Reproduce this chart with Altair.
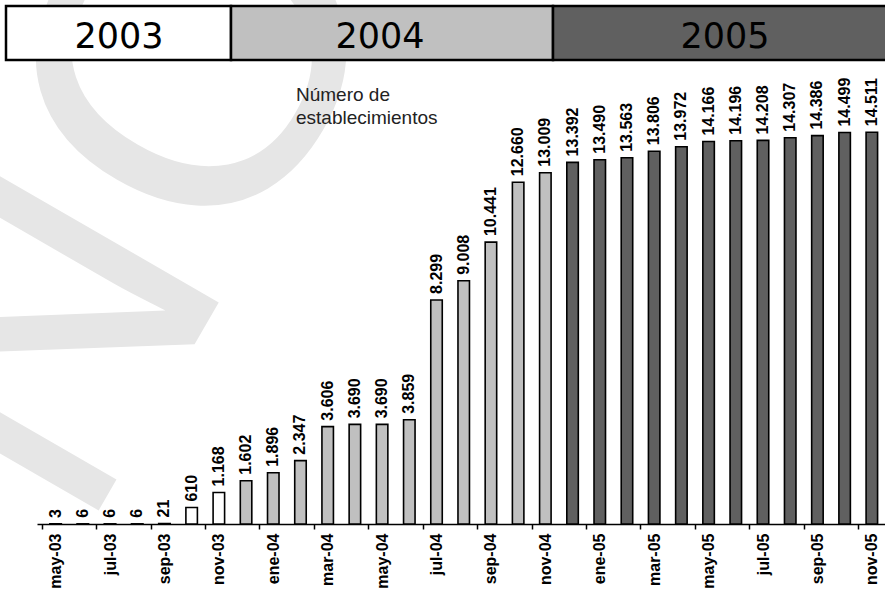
import altair as alt
import pandas as pd

# Monthly series: number of establishments, May 2003 - Nov 2005
meses = ["may-03", "jun-03", "jul-03", "ago-03", "sep-03", "oct-03", "nov-03", "dic-03",
         "ene-04", "feb-04", "mar-04", "abr-04", "may-04", "jun-04", "jul-04", "ago-04",
         "sep-04", "oct-04", "nov-04", "dic-04", "ene-05", "feb-05", "mar-05", "abr-05",
         "may-05", "jun-05", "jul-05", "ago-05", "sep-05", "oct-05", "nov-05"]
establecimientos = [3, 6, 6, 6, 21, 610, 1168, 1602, 1896, 2347, 3606, 3690, 3690, 3859,
                    8299, 9008, 10441, 12660, 13009, 13392, 13490, 13563, 13806, 13972,
                    14166, 14196, 14208, 14307, 14386, 14499, 14511]
tramo = ["2003"] * 7 + ["2004"] * 12 + ["2005"] * 12
anios = ["2003", "2004", "2005"]
colores = ["#ffffff", "#c0c0c0", "#606060"]

df = pd.DataFrame({
    "n": list(range(1, len(meses) + 1)),
    "mes": meses,
    "valor": establecimientos,
    "tramo": tramo,
})
df["etiqueta"] = [f"{v:,}".replace(",", ".") for v in df["valor"]]

FONT = "Liberation Sans"
PASO = 848 / 30.8  # pixels per month on the x scale

etiquetas_js = "[" + ",".join(f"'{m}'" for m in meses) + "]"

x = alt.X(
    "n:Q",
    title=None,
    scale=alt.Scale(domain=[0.5, 31.3], nice=False, zero=False),
    axis=alt.Axis(
        values=list(range(1, len(meses) + 1, 2)),
        labelExpr=f"{etiquetas_js}[datum.value - 1]",
        tickOffset=-PASO / 2,
        labelOffset=PASO / 2,
        grid=False,
        domainColor="black",
        domainWidth=1.5,
        tickColor="black",
        tickWidth=1.5,
        tickSize=5,
        labelAngle=270,
        labelAlign="right",
        labelBaseline="middle",
        labelFont=FONT,
        labelFontWeight="bold",
        labelFontSize=16,
        labelColor="black",
        labelPadding=4,
        labelFlush=False,
        labelOverlap=False,
    ),
)
y = alt.Y("valor:Q", scale=alt.Scale(domain=[0, 15000], nice=False), axis=None)

base = alt.Chart(df)

barras = base.mark_bar(size=11.5, stroke="black", strokeWidth=1.6).encode(
    x=x,
    y=y,
    color=alt.Color("tramo:N", scale=alt.Scale(domain=anios, range=colores), legend=None),
)

valores = base.mark_text(
    angle=270, align="left", baseline="middle", dx=6,
    font=FONT, fontWeight="bold", fontSize=16, color="black",
).encode(x=x, y=y, text="etiqueta:N")

# Background watermark
marca = alt.Chart(pd.DataFrame({"marca": ["NO"]})).mark_text(
    angle=300, align="left", baseline="alphabetic",
    font=FONT, fontSize=430, color="#e6e6e6",
).encode(x=alt.value(44), y=alt.value(422), text="marca:N")

# Year band across the top
bandas = []
limites = [(-31, 194), (194, 516), (516, 870)]
centros = [82, 343, 688]
for anio, color, (a, b), c in zip(anios, colores, limites, centros):
    d = pd.DataFrame({"anio": [anio]})
    bandas.append(
        alt.Chart(d).mark_rect(fill=color, stroke="black", strokeWidth=2.5).encode(
            x=alt.value(a), x2=alt.value(b), y=alt.value(-113), y2=alt.value(-59)
        )
    )
    bandas.append(
        alt.Chart(d).mark_text(
            font="DejaVu Sans", fontSize=35, align="center", baseline="alphabetic", color="black"
        ).encode(x=alt.value(c), y=alt.value(-71), text="anio:N")
    )

rotulo = alt.Chart(pd.DataFrame({"t": ["Número de\nestablecimientos"]})).mark_text(
    align="left", baseline="alphabetic", lineBreak="\n", lineHeight=23,
    font=FONT, fontSize=19, color="#222222",
).encode(x=alt.value(259), y=alt.value(-18), text="t:N")

chart = alt.layer(marca, *bandas, barras, valores, rotulo).properties(
    width=848,
    height=405,
    padding={"left": 37, "top": 119, "right": 0, "bottom": 68},
    autosize=alt.AutoSizeParams(type="none"),
    background="white",
).configure_view(stroke=None)

chart.save("out.html", embed_options={"renderer": "svg", "actions": False})
